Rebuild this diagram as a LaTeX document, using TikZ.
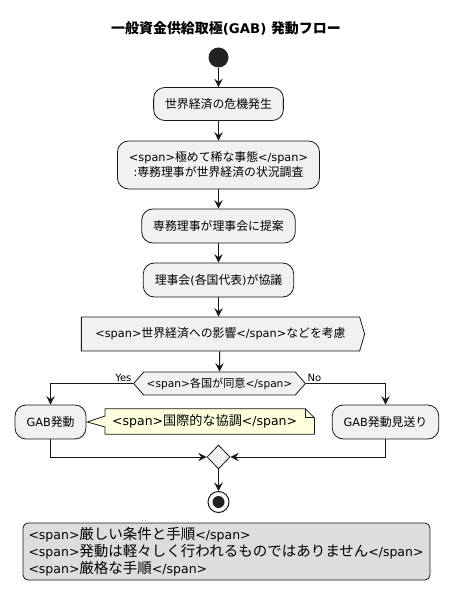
\documentclass[tikz,border=0pt]{standalone}
\usepackage{fontspec}
\setmainfont{DejaVu Sans}
\newfontfamily\latinfont{DejaVu Sans}
\newfontfamily\jpfont{Noto Sans CJK JP}[Scale=1.05]
\newfontfamily\jpbig{Noto Sans CJK JP}[Scale=1.16]
\newcommand\cjkfont{\jpfont}
% CJK runs in Noto Sans CJK JP, the rest in DejaVu Sans
\XeTeXinterchartokenstate=1
\newXeTeXintercharclass\cjkclass
\newcount\cjkc
\def\setcjk#1#2{\cjkc=#1 \loop\XeTeXcharclass\cjkc=\cjkclass\ifnum\cjkc<#2 \advance\cjkc by 1 \repeat}
\setcjk{"3000}{"30FF}
\setcjk{"4E00}{"9FFF}
\setcjk{"FF00}{"FFEF}
\XeTeXinterchartoks 0 \cjkclass = {\cjkfont}
\XeTeXinterchartoks 4095 \cjkclass = {\cjkfont}
\XeTeXinterchartoks \cjkclass 0 = {\latinfont}
\usetikzlibrary{arrows.meta,shapes.geometric,shapes.symbols,backgrounds}
\definecolor{edge}{HTML}{181818}
\definecolor{actfill}{HTML}{F1F1F1}
\definecolor{notefill}{HTML}{FEFFDD}
\definecolor{legfill}{HTML}{DDDDDD}
\definecolor{dot}{HTML}{222222}

\begin{document}
\begin{tikzpicture}[x=1pt,y=-1pt,
    act/.style={draw=edge,fill=actfill,line width=0.8pt,rounded corners=11pt,inner xsep=11.5pt,minimum height=34pt,align=center,font=\fontsize{11.3}{15}\selectfont},
    flow/.style={draw=edge,line width=1pt,-{Stealth[length=8.5pt,width=8.5pt,inset=3.2pt]}},
    lbl/.style={inner sep=1.5pt,font=\fontsize{10}{12}\selectfont}]
  \useasboundingbox (0,0) rectangle (454,604);
  \node[font=\bfseries\fontsize{13.3}{16}\selectfont] (title) at (226,28) {一般資金供給取極(GAB) 発動フロー};
  \node[circle,fill=dot,inner sep=0,minimum size=20pt] (start) at (218.5,57.5) {};
  \node[act,minimum height=33pt] (crisis) at (218.5,104) {世界経済の危機発生};
  \node[act,minimum height=48pt] (survey) at (218.5,165) {<span>極めて稀な事態</span>\\:専務理事が世界経済の状況調査};
  \node[act] (propose) at (218.5,226) {専務理事が理事会に提案};
  \node[act] (discuss) at (218.5,280) {理事会(各国代表)が協議};
  \node[act,rounded corners=0pt,shape=signal,signal to=east,signal pointer angle=147,inner xsep=14pt] (consider) at (220.5,334) {<span>世界経済への影響</span>などを考慮};
  \node[act,rounded corners=0pt,shape=signal,signal to=east and west,signal pointer angle=98,inner xsep=3pt,minimum height=23pt,font=\fontsize{10.6}{13}\selectfont] (decide) at (219.5,383.5) {<span>各国が同意</span>};
  \node[act] (gab) at (50.5,422) {GAB発動};
  \node[act] (skip) at (385.5,422) {GAB発動見送り};
  \node[text width=195pt,align=left,inner xsep=7pt,minimum height=25pt,anchor=west,font=\fontsize{12.5}{16}\selectfont] (note) at (105,421.5) {<span>国際的な協調</span>};
  \node[diamond,draw=edge,fill=actfill,line width=0.8pt,inner sep=0,minimum width=23pt,minimum height=24pt] (merge) at (218.5,457) {};
  \node[circle,draw=edge,fill=white,line width=1pt,inner sep=0,minimum size=21pt] (stop) at (218.5,502) {};
  \fill[dot] (stop) circle (6pt);
  \node[draw=edge,fill=legfill,line width=0.8pt,rounded corners=5pt,text width=396pt,align=left,inner xsep=5.5pt,minimum height=57pt,font=\let\cjkfont\jpbig\fontsize{12.5}{17}\selectfont] (legend) at (226.5,551.5) {<span>厳しい条件と手順</span>\\<span>発動は軽々しく行われるものではありません</span>\\<span>厳格な手順</span>};
  % note outline with pointer
  \begin{scope}[on background layer]
    \draw[edge,fill=notefill,line width=0.8pt] (note.south west) -- ([yshift=-5.5pt]note.west) -- ([xshift=1pt]gab.east) -- ([yshift=5.5pt]note.west) -- (note.north west) -- ([xshift=-9pt]note.north east) -- ([yshift=-9pt]note.north east) -- (note.south east) -- cycle;
    \draw[edge,line width=0.8pt] ([xshift=-9pt]note.north east) |- ([yshift=-9pt]note.north east);
  \end{scope}
  \draw[flow] (start) -- (crisis);
  \draw[flow] (crisis) -- (survey);
  \draw[flow] (survey) -- (propose);
  \draw[flow] (propose) -- (discuss);
  \draw[flow] (discuss) -- (discuss |- consider.north);
  \draw[flow] (consider.south -| decide) -- (decide);
  \draw[flow] (decide.west) -| (gab);
  \draw[flow] (decide.east) -| (skip);
  \node[lbl,anchor=south east] (yes) at (decide.west) {Yes};
  \node[lbl,anchor=south west] (no) at (decide.east) {No};
  \draw[flow] (gab) |- (merge);
  \draw[flow] (skip) |- (merge);
  \draw[flow] (merge) -- (stop);
\end{tikzpicture}
\end{document}
